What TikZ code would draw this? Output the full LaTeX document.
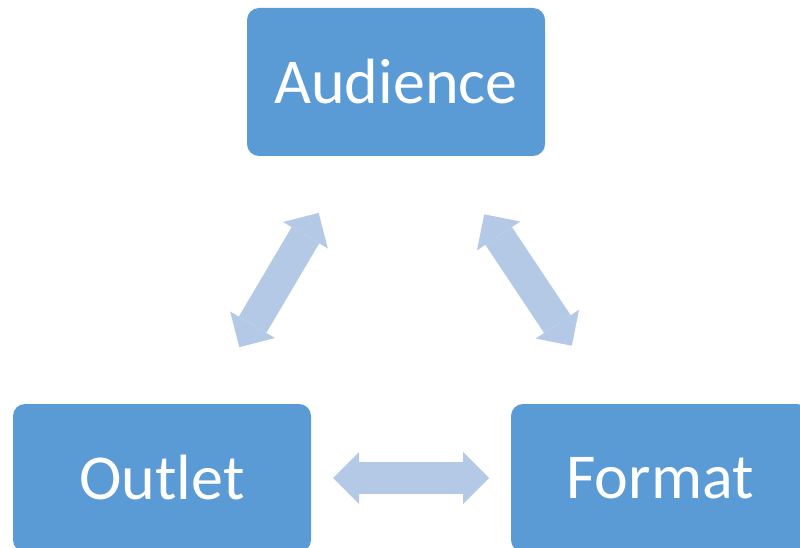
\documentclass[tikz,border=0pt]{standalone}
\usepackage{fontspec}
\setmainfont{Carlito}
\usetikzlibrary{arrows.meta}
\definecolor{boxblue}{HTML}{5B9BD5}
\definecolor{linkblue}{HTML}{B4C9E6}
\tikzset{
  box/.style={fill=boxblue, rounded corners=12pt, minimum width=298pt, minimum height=148pt,
    inner sep=0pt, text=white, font=\fontsize{64}{64}\selectfont},
  link/.style={draw=linkblue, line width=32pt, >={Triangle[width=52pt, length=26pt, line width=0pt]}, <->}
}
\begin{document}
\begin{tikzpicture}[x=1pt, y=-1pt]
    \clip (0,0) rectangle (800,548);

    % the three boxes
    \node[box] (aud) at (396,82) {Audience};
    \node[box] (out) at (162,478) {Outlet};
    \node[box] (fmt) at (660,478) {Format};

    % two-way links
    \draw[link, shorten <=152pt, shorten >=152pt] (out.center) -- (aud.center);
    \draw[link, shorten <=159pt, shorten >=159pt] (fmt.center) -- (aud.center);
    \draw[link, shorten <=171pt, shorten >=171pt] (out.center) -- (fmt.center);
\end{tikzpicture}
\end{document}
